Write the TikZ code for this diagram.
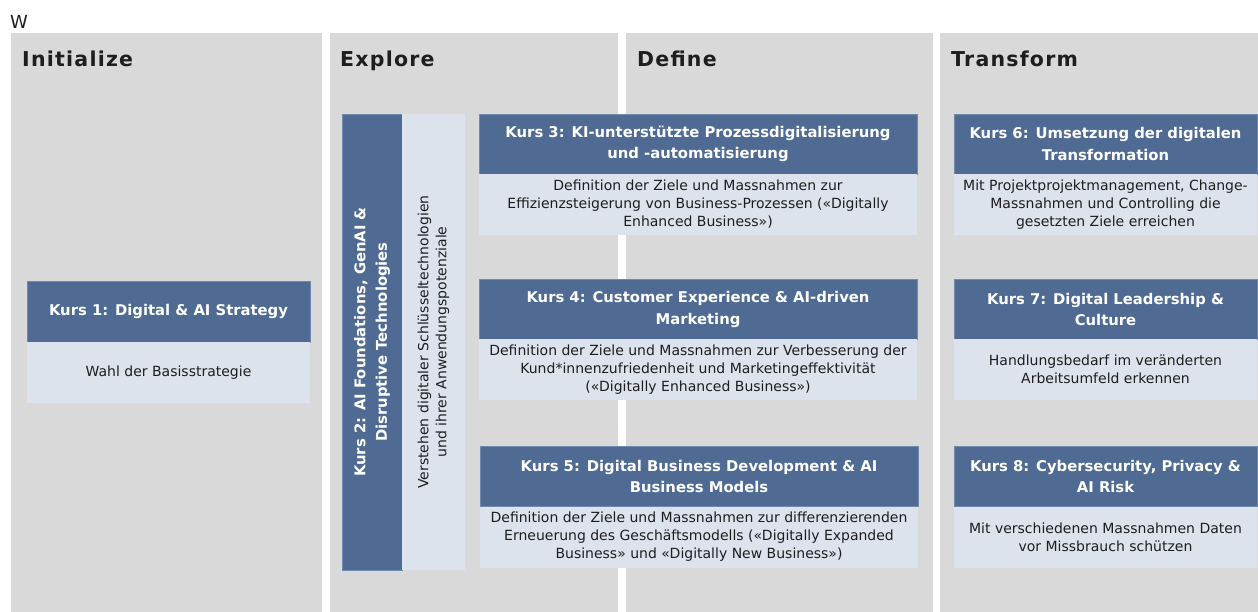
\documentclass[tikz,border=0pt]{standalone}
\usepackage{fontspec}
\setmainfont{DejaVu Sans}
\newfontfamily\titlefont[LetterSpace=6]{DejaVu Sans}
\definecolor{panelgray}{HTML}{D9D9D9}
\definecolor{hdrblue}{HTML}{4F6B93}
\definecolor{hdredge}{HTML}{7189AD}
\definecolor{bodyblue}{HTML}{DCE3EC}
\definecolor{inktext}{HTML}{1E1E1E}
\begin{document}
\begin{tikzpicture}[x=1bp,y=-1bp,
  panel/.style={fill=panelgray, inner sep=0pt, outer sep=0pt},
  phase/.style={anchor=base west, inner sep=0pt, text=inktext,
    font=\titlefont\bfseries\fontsize{20.5bp}{24bp}\selectfont},
  hdr/.style={fill=hdrblue, draw=hdredge, line width=0.6bp, inner sep=0pt,
    text=white, align=center,
    font=\bfseries\fontsize{14.8bp}{21.5bp}\selectfont},
  bdy/.style={fill=bodyblue, inner sep=0pt, text=inktext, align=center,
    font=\fontsize{14bp}{18bp}\selectfont},
  wide/.style={minimum width=438bp},
  narrow/.style={minimum width=303bp},
]
\useasboundingbox[fill=white] (0,0) rectangle (1258,612);

% phase columns
\node[panel, minimum width=311bp, minimum height=579bp] (pinit) at (166.5,322.5) {};
\node[panel, minimum width=288bp, minimum height=579bp] (pexpl) at (474,322.5) {};
\node[panel, minimum width=307bp, minimum height=579bp] (pdef)  at (779.5,322.5) {};
\node[panel, minimum width=318bp, minimum height=579bp] (ptra)  at (1099,322.5) {};

\node[anchor=base west, inner sep=0pt, text=inktext, font=\fontsize{18bp}{20bp}\selectfont] (mark) at (10,29) {W};

\node[phase] (tinit) at (22,66.5)  {Initialize};
\node[phase] (texpl) at (340,66.5) {Explore};
\node[phase] (tdef)  at (637,66.5) {Define};
\node[phase] (ttra)  at (951,66.5) {Transform};

% Kurs 1
\node[hdr, minimum width=283bp, minimum height=61bp] (k1h) at (168.5,311.5) {Kurs 1: Digital \& AI Strategy};
\node[bdy, minimum width=283bp, minimum height=61bp] (k1b) at (168.5,372.5) {Wahl der Basisstrategie};

% Kurs 2 (vertical)
\node[hdr, rotate=90, minimum width=456bp, minimum height=60bp] (k2h) at (372,342)
  {Kurs 2: AI Foundations, GenAI \&\\Disruptive Technologies};
\node[bdy, rotate=90, minimum width=456bp, minimum height=63bp] (k2b) at (433.5,342)
  {Verstehen digitaler Schlüsseltechnologien\\und ihrer Anwendungspotenziale};

% Kurs 3-5
\node[hdr, wide, minimum height=60bp] (k3h) at (698,144)
  {Kurs 3: KI-unterstützte Prozessdigitalisierung\\und -automatisierung};
\node[bdy, wide, minimum height=61bp] (k3b) at (698,204.5)
  {Definition der Ziele und Massnahmen zur\\Effizienzsteigerung von Business-Prozessen («Digitally\\Enhanced Business»)};

\node[hdr, wide, minimum height=60.5bp] (k4h) at (698,309.25)
  {Kurs 4: Customer Experience \& AI-driven\\Marketing};
\node[bdy, wide, minimum height=60.5bp] (k4b) at (698,369.75)
  {Definition der Ziele und Massnahmen zur Verbesserung der\\Kund*innenzufriedenheit und Marketingeffektivität\\(«Digitally Enhanced Business»)};

\node[hdr, wide, minimum height=60.5bp] (k5h) at (699,476.25)
  {Kurs 5: Digital Business Development \& AI\\Business Models};
\node[bdy, wide, minimum height=61bp] (k5b) at (699,537)
  {Definition der Ziele und Massnahmen zur differenzierenden\\Erneuerung des Geschäftsmodells («Digitally Expanded\\Business» und «Digitally New Business»)};

% Kurs 6-8
\node[hdr, narrow, minimum height=60bp] (k6h) at (1105.5,144)
  {Kurs 6: Umsetzung der digitalen\\Transformation};
\node[bdy, narrow, minimum height=61bp] (k6b) at (1105.5,204.5)
  {Mit Projektprojektmanagement, Change-\\Massnahmen und Controlling die\\gesetzten Ziele erreichen};

\node[hdr, narrow, minimum height=60.5bp] (k7h) at (1105.5,309.25)
  {Kurs 7: Digital Leadership \&\\Culture};
\node[bdy, narrow, minimum height=60.5bp] (k7b) at (1105.5,369.75)
  {Handlungsbedarf im veränderten\\Arbeitsumfeld erkennen};

\node[hdr, narrow, minimum height=60.5bp] (k8h) at (1105.5,476.25)
  {Kurs 8: Cybersecurity, Privacy \&\\AI Risk};
\node[bdy, narrow, minimum height=61bp] (k8b) at (1105.5,537)
  {Mit verschiedenen Massnahmen Daten\\vor Missbrauch schützen};
\end{tikzpicture}
\end{document}
